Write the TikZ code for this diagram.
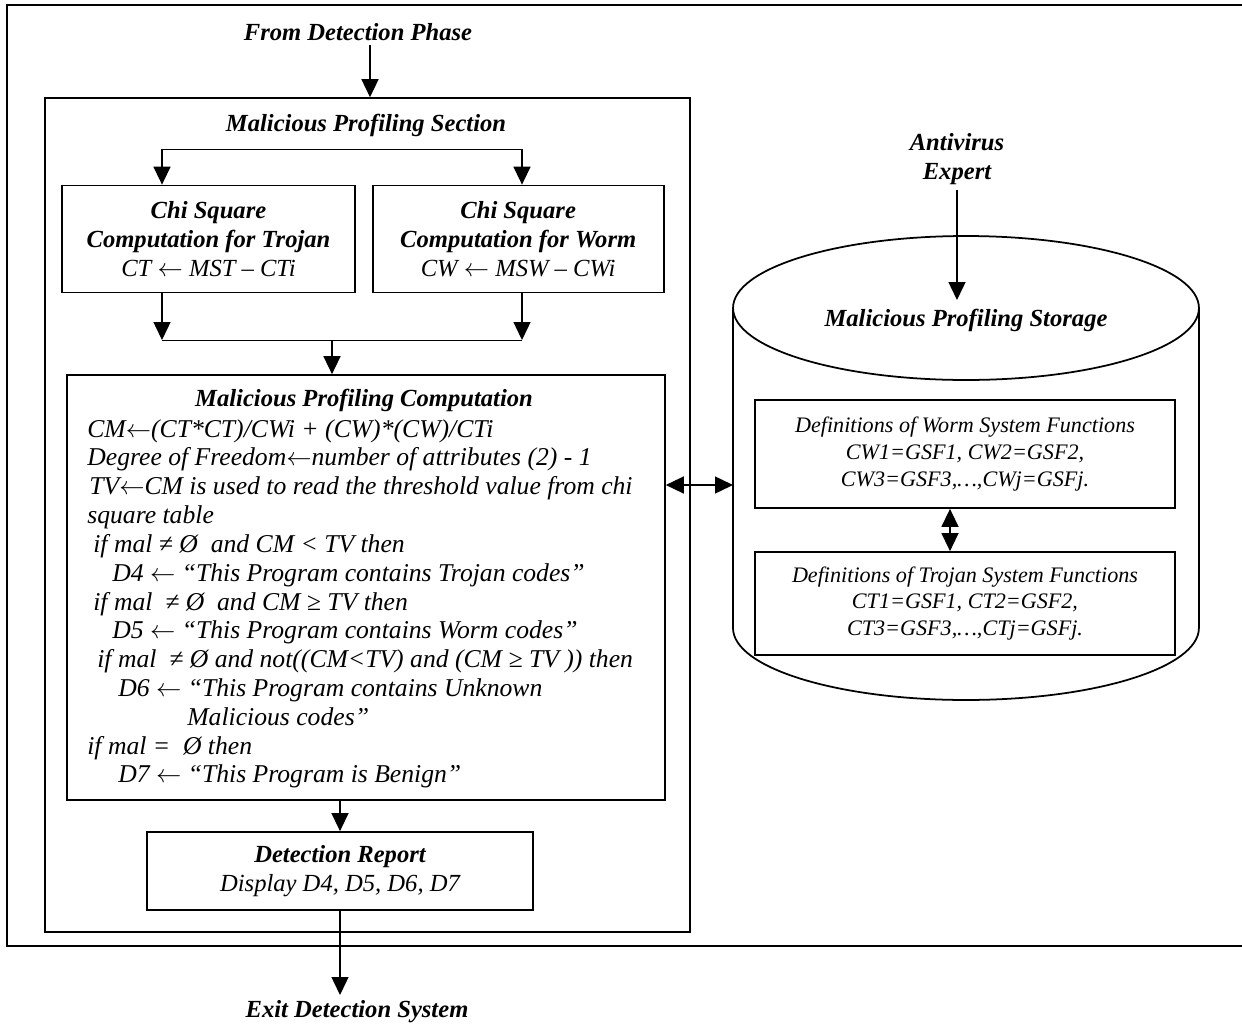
\documentclass[tikz,border=0pt]{standalone}
\usepackage{fontspec}
\setmainfont{Liberation Serif}
\usetikzlibrary{arrows.meta,positioning,calc}
\newcommand{\getsarrow}{\ensuremath{\leftarrow}}

\begin{document}
\begin{tikzpicture}[x=0.02cm, y=-0.02cm, node distance=0.64cm,
    block/.style={rectangle, draw, line width=1pt, inner sep=0pt, align=center, font=\fontsize{14}{16.4}\selectfont\itshape},
    defbox/.style={rectangle, draw, line width=1pt, inner sep=0pt, minimum width=8.4cm, align=center, font=\fontsize{12.6}{15.3}\selectfont\itshape},
    heading/.style={font=\fontsize{14}{16.4}\selectfont\bfseries\itshape, align=center, inner sep=0pt},
    arrow/.style={-{Triangle[length=0.36cm,width=0.34cm]}, line width=0.8pt},
    dblarrow/.style={{Triangle[length=0.36cm,width=0.34cm]}-{Triangle[length=0.36cm,width=0.34cm]}, line width=0.8pt}]

    \useasboundingbox (0,0) rectangle (1242,1025);

    % outer frame (open to the right)
    \draw[line width=1.4pt] (1242,5) -- (7,5) -- (7,946) -- (1242,946);

    % detection side
    \node[heading] (from) at (358,32) {From Detection Phase};
    \node[block, minimum width=12.9cm, minimum height=16.68cm] (section) at (367.5,515) {};
    \node[heading] (sectitle) at (366,125) {Malicious Profiling Section};

    \node[block, minimum width=5.86cm, minimum height=2.14cm] (trojan) at (208.5,239)
        {\textbf{Chi Square}\\\textbf{Computation for Trojan}\\CT \getsarrow\ MST – CTi};
    \node[block, minimum width=5.82cm, minimum height=2.14cm, right=0.32cm of trojan] (worm)
        {\textbf{Chi Square}\\\textbf{Computation for Worm}\\CW \getsarrow\ MSW – CWi};

    \node[block, minimum width=11.96cm, minimum height=8.5cm] (comp) at (366,587.5) {};
    \node[heading] (comptitle) at (364,400) {Malicious Profiling Computation};
    \node[anchor=north west, inner sep=0pt, align=left, font=\fontsize{14.6}{16.4}\selectfont\itshape] (compbody) at (87,419)
        {CM\getsarrow(CT*CT)/CWi + (CW)*(CW)/CTi\\
         Degree of Freedom\getsarrow number of attributes (2) - 1\\
         \hspace*{0.04cm}TV\getsarrow CM is used to read the threshold value from chi\\
         square table\\
         \hspace*{0.12cm}if mal ≠ Ø~ and CM < TV then\\
         \hspace*{0.5cm}D4 \getsarrow\ “This Program contains Trojan codes”\\
         \hspace*{0.12cm}if mal ~≠ Ø~ and CM ≥ TV then\\
         \hspace*{0.5cm}D5 \getsarrow\ “This Program contains Worm codes”\\
         \hspace*{0.2cm}if mal ~≠ Ø and not((CM<TV) and (CM ≥ TV )) then\\
         \hspace*{0.62cm}D6 \getsarrow\ “This Program contains Unknown\\
         \hspace*{2cm}Malicious codes”\\
         if mal = ~Ø then\\
         \hspace*{0.62cm}D7 \getsarrow\ “This Program is Benign”};

    \node[block, minimum width=7.72cm, minimum height=1.56cm] (report) at (340,871)
        {\textbf{Detection Report}\\Display D4, D5, D6, D7};
    \node[heading] (exit) at (357,1012) {Exit Detection System};

    % storage side
    \node[heading] (expert) at (957,159) {Antivirus\\Expert};
    \draw[line width=1pt] (966,308) ellipse [x radius=4.66cm, y radius=1.44cm];
    \draw[line width=1pt] (733,308) -- (733,628)
        arc[start angle=180, end angle=360, x radius=4.66cm, y radius=1.44cm] -- (1199,308);
    \node[heading] (storetitle) at (966,320) {Malicious Profiling Storage};
    \node[defbox, minimum height=2.16cm] (wdef) at (965,454)
        {Definitions of Worm System Functions\\CW1=GSF1, CW2=GSF2,\\CW3=GSF3,…,CWj=GSFj.};
    \node[defbox, minimum height=2.06cm] (tdef) at (965,603.5)
        {Definitions of Trojan System Functions\\CT1=GSF1, CT2=GSF2,\\CT3=GSF3,…,CTj=GSFj.};

    \coordinate (fromarr) at (370,45);
    \coordinate (tjin) at (162,149);
    \coordinate (wmin) at (522,149);
    \coordinate (merge) at (332,340);
    \coordinate (exitarr) at (340,995);
    \coordinate (storeW) at (733,485);
    \coordinate (storetop) at (957,300);

    % connectors
    \draw[arrow] (fromarr) -- (fromarr |- section.north);
    \draw (tjin) -- (wmin);
    \draw[arrow] (tjin) -- (tjin |- trojan.north);
    \draw[arrow] (wmin) -- (wmin |- worm.north);
    \draw[arrow] (tjin |- trojan.south) -- (tjin |- merge);
    \draw[arrow] (wmin |- worm.south) -- (wmin |- merge);
    \draw (tjin |- merge) -- (wmin |- merge);
    \draw[arrow] (merge) -- (merge |- comp.north);
    \draw[arrow] (comp.south -| report.north) -- (report.north);
    \draw[arrow] (report.south) -- (exitarr);
    \draw[dblarrow] (comp.east |- storeW) -- (storeW);
    \draw[arrow] ([yshift=-0.1cm]expert.south) -- (storetop);
    \draw[dblarrow] ([xshift=-0.3cm]wdef.south) -- ([xshift=-0.3cm]tdef.north);
\end{tikzpicture}
\end{document}
